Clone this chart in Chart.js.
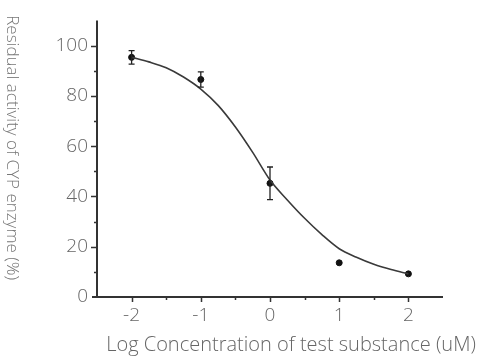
<!DOCTYPE html>
<html>
<head>
<meta charset="utf-8">
<script src="https://cdn.jsdelivr.net/npm/chart.js@4"></script>
<style>
  html, body { margin: 0; padding: 0; background: #fff; }
  #wrap { width: 491px; height: 356px; }
</style>
</head>
<body>
<div id="wrap"><canvas id="chart" width="491" height="356"></canvas></div>
<script>
// measured points (log concentration, residual activity %, error)
var logConc = [-2, -1, 0, 1, 2];
var activity = [95.3, 86.5, 45.2, 13.6, 9.2];
var errors = [2.7, 3.0, 6.5, 0, 0];

// fitted curve
var fitX = [-2, -1.75, -1.5, -1.25, -1, -0.75, -0.5, -0.25, 0, 0.25, 0.5, 0.75, 1, 1.25, 1.5, 1.75, 2];
var fitY = [95.3, 93.5, 91.2, 87.5, 82.7, 76.2, 67.6, 57.5, 46.5, 38.6, 31.3, 24.8, 19.2, 15.8, 13.0, 10.9, 9.2];

var yTicks = [0, 20, 40, 60, 80, 100];
var xTicks = [-2, -1, 0, 1, 2];

var xTitle = 'Log Concentration of test substance (uM)';
var yTitle = 'Residual activity of CYP enzyme (%)';

var FONT = '"Open Sans", "DejaVu Sans", sans-serif';

// Axes, ticks, error bars and axis titles drawn by hand
var axesPlugin = {
    id: 'axesAndErrors',
    afterDatasetsDraw: function(chart) {
        var ctx = chart.ctx;
        var xs = chart.scales.x, ys = chart.scales.y;
        var area = chart.chartArea;
        ctx.save();
        ctx.strokeStyle = '#333';
        ctx.lineWidth = 2;
        // axis lines
        ctx.beginPath();
        ctx.moveTo(area.left, area.top);
        ctx.lineTo(area.left, area.bottom);
        ctx.moveTo(area.left - 5, area.bottom);
        ctx.lineTo(area.right, area.bottom);
        ctx.stroke();
        // y ticks every 10, long ones at labelled values
        ctx.lineWidth = 1.5;
        ctx.beginPath();
        for (var v = 10; v <= 100; v += 10) {
            var py = Math.round(ys.getPixelForValue(v)) + 0.5;
            var len = (v % 20 === 0) ? 6 : 3;
            ctx.moveTo(area.left - len, py);
            ctx.lineTo(area.left, py);
        }
        // x ticks every 0.5
        for (var k = -2; k <= 2; k += 0.5) {
            var px = Math.round(xs.getPixelForValue(k)) + 0.5;
            var l2 = (k % 1 === 0) ? 5 : 3;
            ctx.moveTo(px, area.bottom);
            ctx.lineTo(px, area.bottom + l2);
        }
        ctx.stroke();
        // error bars
        ctx.strokeStyle = '#222';
        ctx.lineWidth = 1.3;
        ctx.beginPath();
        for (var i = 0; i < logConc.length; i++) {
            if (!errors[i]) continue;
            var ex = xs.getPixelForValue(logConc[i]);
            var top = ys.getPixelForValue(activity[i] + errors[i]);
            var bot = ys.getPixelForValue(activity[i] - errors[i]);
            ctx.moveTo(ex, top);
            ctx.lineTo(ex, bot);
            ctx.moveTo(ex - 3, top);
            ctx.lineTo(ex + 3, top);
            ctx.moveTo(ex - 3, bot);
            ctx.lineTo(ex + 3, bot);
        }
        ctx.stroke();

        // axis titles (offset like in the original figure)
        ctx.fillStyle = '#666';
        ctx.textAlign = 'center';
        ctx.textBaseline = 'middle';
        ctx.font = '300 20px ' + FONT;
        ctx.fillText(xTitle, (area.left + area.right) / 2 + 21, area.bottom + 48);
        ctx.save();
        ctx.translate(12, (area.top + area.bottom) / 2 - 11);
        ctx.rotate(Math.PI / 2);
        ctx.fillStyle = '#777';
        ctx.font = '300 17px ' + FONT;
        ctx.fillText(yTitle, 0, 0);
        ctx.restore();
        ctx.restore();
    }
};

var ctx = document.getElementById('chart').getContext('2d');
new Chart(ctx, {
    type: 'scatter',
    data: {
        datasets: [{
            type: 'line',
            data: fitX.map(function(x, i) { return {x: x, y: fitY[i]}; }),
            borderColor: '#3a3a3a',
            borderWidth: 1.6,
            pointRadius: 0,
            cubicInterpolationMode: 'monotone',
            fill: false
        }, {
            data: logConc.map(function(x, i) { return {x: x, y: activity[i]}; }),
            backgroundColor: '#111',
            borderColor: '#111',
            pointRadius: 3,
            pointStyle: 'circle'
        }]
    },
    options: {
        responsive: false,
        animation: false,
        layout: { padding: { top: 17, right: 48, left: 0, bottom: 0 } },
        plugins: {
            legend: { display: false },
            tooltip: { enabled: false }
        },
        scales: {
            x: {
                type: 'linear',
                min: -2.5,
                max: 2.5,
                afterBuildTicks: function(scale) {
                    scale.ticks = xTicks.map(function(v) { return {value: v}; });
                },
                afterFit: function(scale) { scale.height = 59; },
                grid: { display: false, drawTicks: false },
                border: { display: false },
                ticks: {
                    padding: 7,
                    color: '#666',
                    font: { family: FONT, size: 19, weight: '300' }
                }
            },
            y: {
                min: 0,
                max: 110,
                afterBuildTicks: function(scale) {
                    scale.ticks = yTicks.map(function(v) { return {value: v}; });
                },
                afterFit: function(scale) { scale.width = 97; },
                grid: { display: false, drawTicks: false },
                border: { display: false },
                ticks: {
                    padding: 9,
                    color: '#666',
                    font: { family: FONT, size: 19, weight: '300' }
                }
            }
        }
    },
    plugins: [axesPlugin]
});
</script>
</body>
</html>
